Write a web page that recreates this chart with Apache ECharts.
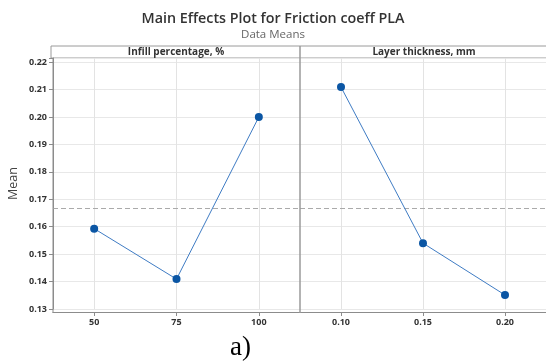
<!DOCTYPE html>
<html>
<head>
<meta charset="utf-8">
<script src="https://cdn.jsdelivr.net/npm/echarts@6/dist/echarts.min.js"></script>
<style>
html,body{margin:0;padding:0;background:#fff;}
#c{width:546px;height:362px;}
</style>
</head>
<body>
<div id="c"></div>
<script>
const infillCats = ['50', '75', '100'];
const infillMeans = [0.1593, 0.1409, 0.2000];
const layerCats = ['0.10', '0.15', '0.20'];
const layerMeans = [0.2109, 0.1540, 0.1351];
const yTicks = [0.13, 0.14, 0.15, 0.16, 0.17, 0.18, 0.19, 0.20, 0.21, 0.22];
const panelTitles = ['Infill percentage, %', 'Layer thickness, mm'];

const all = infillMeans.concat(layerMeans);
const grandMean = all.reduce((a, b) => a + b, 0) / all.length;

const FONT = '"Open Sans", "Noto Sans", sans-serif';
const chart = echarts.init(document.getElementById('c'), null, {renderer: 'canvas'});

function yAxis(gi, showLabels) {
  return {
    type: 'value', gridIndex: gi, min: 0.13, max: 0.2215, interval: 0.01,
    axisLine: {show: gi === 0, lineStyle: {color: '#8c8c8c', width: 1}},
    axisTick: {show: showLabels, length: 4, lineStyle: {color: '#8c8c8c'}},
    axisLabel: {
      show: showLabels, margin: 6, color: '#333', fontSize: 9, fontWeight: 'bold', fontFamily: FONT,
      formatter: v => (Math.abs(v * 100 - Math.round(v * 100)) < 1e-6 ? v.toFixed(2) : '')
    },
    splitLine: {show: true, lineStyle: {color: '#e8e8e8', width: 1}},
    name: showLabels ? 'Mean' : '', nameLocation: 'middle', nameGap: 33,
    nameTextStyle: {color: '#444', fontSize: 12.5, fontFamily: FONT}
  };
}
function xAxis(gi, cats) {
  return {
    type: 'category', gridIndex: gi, data: cats, boundaryGap: true, offset: 3,
    axisLine: {show: true, lineStyle: {color: '#8c8c8c', width: 1}},
    axisTick: {show: true, alignWithLabel: true, length: 4, lineStyle: {color: '#8c8c8c'}},
    axisLabel: {color: '#333', fontSize: 9, fontWeight: 'bold', fontFamily: FONT, margin: 6},
    splitLine: {show: false}
  };
}
function series(gi, cats, vals) {
  return {
    type: 'line', xAxisIndex: gi, yAxisIndex: gi,
    data: vals,
    symbol: 'circle', symbolSize: 8,
    itemStyle: {color: '#0b56a4'},
    lineStyle: {color: '#3f7cc4', width: 1},
    silent: true, animation: false,
    markLine: {
      silent: true, symbol: 'none', animation: false, label: {show: false}, precision: 6,
      data: cats.map(c => ({xAxis: c, lineStyle: {color: '#e3e3e3', type: 'solid', width: 1}}))
        .concat([{yAxis: grandMean, lineStyle: {color: '#aaaaaa', type: [5, 3], width: 1}}])
    },
    z: 5
  };
}

chart.setOption({
  animation: false,
  backgroundColor: '#ffffff',
  title: [
    {text: 'Main Effects Plot for Friction coeff PLA', left: 'center', top: 7,
      textStyle: {color: '#333', fontSize: 14.3, fontWeight: 600, fontFamily: FONT}},
    {text: 'Data Means', left: 'center', top: 24,
      textStyle: {color: '#666', fontSize: 11.5, fontWeight: 'normal', fontFamily: FONT}},
    {text: 'a)', left: 225, top: 329,
      textStyle: {color: '#000', fontSize: 27, fontWeight: 'normal', fontFamily: '"Liberation Serif", serif'}}
  ],
  grid: [
    {left: 53, right: 246, top: 58, bottom: 53},
    {left: 300, right: -2, top: 58, bottom: 53}
  ],
  xAxis: [xAxis(0, infillCats), xAxis(1, layerCats)],
  yAxis: [yAxis(0, true), yAxis(1, false)],
  series: [series(0, infillCats, infillMeans), series(1, layerCats, layerMeans)],
  graphic: [
    {type: 'rect', shape: {x: 51, y: 46, width: 500, height: 12}, style: {fill: '#fff', stroke: '#9a9a9a', lineWidth: 1}, silent: true},
    {type: 'line', shape: {x1: 300, y1: 46, x2: 300, y2: 313}, style: {stroke: '#9a9a9a', lineWidth: 1.5}, silent: true, z: 10},
    {type: 'line', shape: {x1: 53, y1: 58, x2: 53, y2: 313}, style: {stroke: '#8c8c8c', lineWidth: 1}, silent: true, z: 10},
    {type: 'text', x: 176, y: 52.5, style: {text: panelTitles[0], fill: '#333', font: 'bold 10px ' + FONT, textAlign: 'center', textVerticalAlign: 'middle'}, silent: true},
    {type: 'text', x: 424, y: 52.5, style: {text: panelTitles[1], fill: '#333', font: 'bold 10px ' + FONT, textAlign: 'center', textVerticalAlign: 'middle'}, silent: true}
  ]
});
</script>
</body>
</html>
